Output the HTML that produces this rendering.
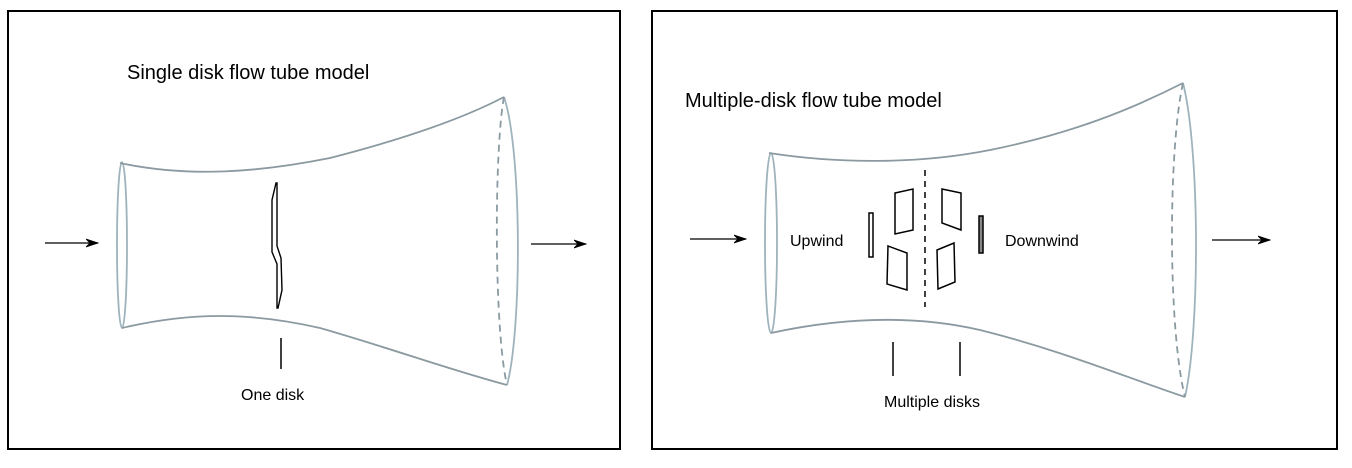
<!DOCTYPE html>
<html><head><style>
html,body{margin:0;padding:0;background:#fff;}
svg{display:block;}
text{font-family:"Liberation Sans",Arial,sans-serif;fill:#000;}
</style></head><body>
<svg width="1352" height="468" viewBox="0 0 1352 468" xmlns="http://www.w3.org/2000/svg">
<defs>
<marker id="ah" markerWidth="14" markerHeight="10" refX="12" refY="5" orient="auto" markerUnits="userSpaceOnUse">
<path d="M0,1 L12,5 L0,9 L4,5 Z" fill="#000" stroke="#000" stroke-width="0.8"/>
</marker>
</defs>
<rect width="1352" height="468" fill="#fff"/>
<!-- panel 1 -->
<rect x="8" y="11" width="612" height="438" fill="none" stroke="#000" stroke-width="2"/>
<text x="127" y="79" font-size="20">Single disk flow tube model</text>
<g fill="none" stroke="#8a9aa0" stroke-width="1.8">
<ellipse cx="122" cy="245" rx="5" ry="83" stroke="#9fb3bd"/>
<path d="M120,163 C190,178 260,172 330,158 C400,140 460,120 504,97"/>
<path d="M122,328 C190,312 250,312 320,328 C390,348 450,370 507,385"/>
<path d="M504,97 C522,150 522,330 507,385" stroke="#9fb3bd"/>
<path d="M504,97 C494,150 494,330 507,385" stroke-dasharray="7,5"/>
</g>
<path d="M276,183 L277,183 L277,246 L281,258 L282,290 L278,308 L277,308 L277,264 L272,252 L272,200 Z" fill="none" stroke="#000" stroke-width="1.4"/>
<line x1="281" y1="338" x2="281" y2="369" stroke="#000" stroke-width="1.5"/>
<text x="241" y="400" font-size="16">One disk</text>
<line x1="45" y1="243" x2="98" y2="243" stroke="#000" stroke-width="1.3" marker-end="url(#ah)"/>
<line x1="531" y1="244" x2="586" y2="244" stroke="#000" stroke-width="1.3" marker-end="url(#ah)"/>
<!-- panel 2 -->
<rect x="652" y="11" width="685" height="438" fill="none" stroke="#000" stroke-width="2"/>
<text x="685" y="107" font-size="20">Multiple-disk flow tube model</text>
<g fill="none" stroke="#8a9aa0" stroke-width="1.8">
<ellipse cx="771" cy="243" rx="6" ry="90" stroke="#9fb3bd"/>
<path d="M769,153 C840,164 920,164 990,150 C1070,134 1130,110 1183,83"/>
<path d="M771,333 C840,318 910,314 980,330 C1060,350 1120,375 1185,397"/>
<path d="M1183,83 C1200,150 1200,330 1185,397" stroke="#9fb3bd"/>
<path d="M1183,83 C1168,150 1168,330 1185,397" stroke-dasharray="7,5"/>
</g>
<line x1="925" y1="170" x2="925" y2="307" stroke="#000" stroke-width="1.5" stroke-dasharray="6,5"/>
<g fill="none" stroke="#000" stroke-width="1.5">
<rect x="869" y="213" width="4" height="44"/>
<rect x="979" y="216" width="4" height="37" fill="#888"/>
<polygon points="895,193 913,189 913,230 895,234"/>
<polygon points="888,246 907,253 907,290 887,284"/>
<polygon points="942,189 961,193 961,230 942,223"/>
<polygon points="937,250 954,243 955,282 938,289"/>
</g>
<text x="790" y="246" font-size="16">Upwind</text>
<text x="1005" y="246" font-size="16">Downwind</text>
<line x1="893" y1="342" x2="893" y2="376" stroke="#000" stroke-width="1.5"/>
<line x1="960" y1="342" x2="960" y2="376" stroke="#000" stroke-width="1.5"/>
<text x="932" y="407" font-size="16" text-anchor="middle">Multiple disks</text>
<line x1="690" y1="239" x2="746" y2="239" stroke="#000" stroke-width="1.3" marker-end="url(#ah)"/>
<line x1="1212" y1="240" x2="1270" y2="240" stroke="#000" stroke-width="1.3" marker-end="url(#ah)"/>
</svg>
</body></html>
